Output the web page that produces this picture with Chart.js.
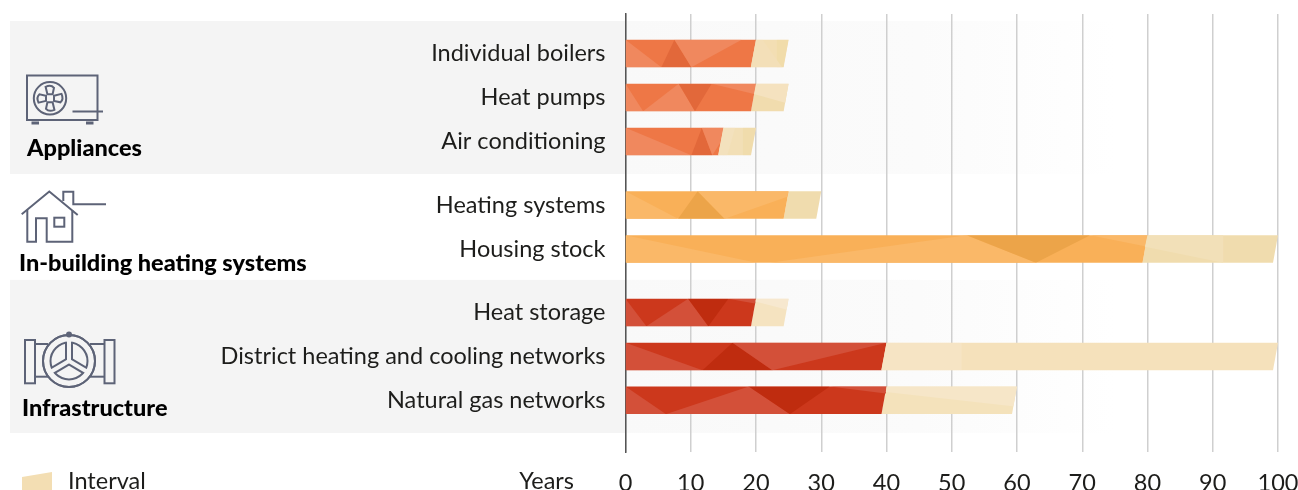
<!DOCTYPE html>
<html><head><meta charset="utf-8">
<style>html,body{margin:0;padding:0;background:#fff}canvas{display:block}</style>
<script src="https://cdn.jsdelivr.net/npm/chart.js@4"></script>
</head><body><canvas id="c" width="1298" height="490"></canvas>
<script>
const categories = ["Individual boilers","Heat pumps","Air conditioning","Heating systems","Housing stock","Heat storage","District heating and cooling networks","Natural gas networks"];
const rowGroup = [0,0,0,1,1,2,2,2];
const groupNames = ["Appliances","In-building heating systems","Infrastructure"];
const lifetimeMin = [20,20,15,25,80,20,40,40];
const lifetimeMax = [25,25,20,30,100,25,100,60];
const xTicks = [0,10,20,30,40,50,60,70,80,90,100];
const intervalLabel = "Interval";
const axisLabel = "Years";

// Facets of the low-poly bar texture: tone, then [years, fraction of bar height] corners
const facetsBoilers = [["l",[[0,0],[5.5,1],[0,1]]],["d",[[7.5,0],[10.1,1],[5.5,1]]],["l",[[7.5,0],[17.8,0],[10.1,1]]],["i2",[[23.2,0],[25,0],[24.2,1],[23.2,1]]],["i1",[[20,0],[21,0],[24,1],[19.2,1]]]];
const facetsPumps = [["l",[[0,0],[2.7,1],[0,1]]],["l",[[8.15,0],[10.65,1],[2.7,1]]],["d",[[8.15,0],[13.2,0],[10.65,1]]],["l",[[13.2,0],[20,0],[19.7,.37]]],["i1",[[20,0],[25,0],[24.6,.7],[19.7,.37]]]];
const facetsAC = [["l",[[0,0],[10.1,1],[0,1]]],["d",[[11.7,0],[13.3,1],[10.1,1]]],["l",[[11.7,0],[15,0],[14.5,.55],[13.3,1]]],["i1",[[15,0],[16.8,0],[15.6,1],[14.2,1]]],["i2",[[18,0],[20,0],[19.2,1],[18,1]]]];
const facetsHeating = [["l",[[0,0],[8.05,1],[0,1]]],["d",[[11.06,0],[15.2,1],[8.05,1]]],["l",[[11.06,0],[25,0],[24.8,.2],[15.2,1]]]];
const facetsHousing = [["l",[[0,0],[20.1,1],[0,1]]],["l",[[22.1,1],[52.3,0],[62.9,1]]],["d",[[52.3,0],[71.2,0],[62.9,1]]],["l",[[71.2,0],[80,0],[79.6,.4]]],["i1",[[80,0],[91.6,0],[91.6,1],[79.6,.42]]]];
const facetsStorage = [["l",[[0,0],[3.2,1],[0,1]]],["l",[[9.6,0],[12.7,1],[3.2,1]]],["d",[[9.6,0],[15.76,0],[12.7,1]]],["l",[[15.76,0],[20,0],[19.8,.18]]],["i1",[[20,0],[25,0],[24.8,.4],[19.9,.1]]]];
const facetsDistrict = [["l",[[0,0],[11.8,1],[0,1]]],["d",[[16.4,0],[22.5,1],[11.8,1]]],["l",[[16.4,0],[40,0],[22.5,1]]],["i1",[[40,0],[51.5,0],[51.5,1],[39.2,1]]]];
const facetsGas = [["l",[[0,0],[6.2,1],[0,1]]],["l",[[18.9,0],[25.2,1],[6.2,1]]],["d",[[18.9,0],[31.3,0],[25.2,1]]],["l",[[31.3,0],[40,0],[39.9,.25]]],["i1",[[40,0],[60,0],[59.7,.72],[39.9,.2]]]];
const rowFacets = [facetsBoilers,facetsPumps,facetsAC,facetsHeating,facetsHousing,facetsStorage,facetsDistrict,facetsGas];

const orange={b:"#ee7746",l:"#f0885e",d:"#e2683a"}, amber={b:"#f9b058",l:"#fab868",d:"#eca449"}, red={b:"#cc381c",l:"#d35039",d:"#bf2c0f"};
const rowTone=[orange,orange,orange,amber,amber,red,red,red];
const intervalBase=["#f3deb3","#f1dcae","#f2dfb6","#f0dcae","#f0dcae","#f5e3c0","#f5e1bb","#f4e2bb"];
const intervalLight=["#f3dfb8","#f5e2bf","#f3e1bd","#f0dcae","#f2e0b8","#f7e8cf","#f6e4c4","#f6e6c8"];
const intervalDark=["#f1dcaa","#f1dcae","#f0dcac","#f0dcae","#f0dcae","#f5e3c0","#f5e1bb","#f4e2bb"];

const SLANT=5, gapUnits=0.443;
const rowPos=categories.map((c,i)=>i+gapUnits*rowGroup[i]);
const FONT='Lato, sans-serif', INK='#1d1d1b', ICON='#5d6377';

function barPath(ctx,x0,x1,y,h,slantLeft){
  const t=y-h/2,b=y+h/2;
  ctx.beginPath();ctx.moveTo(x0,t);ctx.lineTo(x1,t);ctx.lineTo(x1-SLANT,b);ctx.lineTo(x0-(slantLeft?SLANT:0),b);ctx.closePath();
}
Chart.BarElement.prototype.draw=function(ctx){
  const {x,y,base,height}=this.getProps(['x','y','base','height']);
  ctx.save();ctx.fillStyle=this.options.backgroundColor;
  barPath(ctx,base,x,y,height,base>this.$zero);
  ctx.fill();ctx.restore();
};

const facetPlugin={id:'facets',
  beforeDatasetsDraw(chart){
    const z=chart.scales.x.getPixelForValue(0)+1;
    chart.data.datasets.forEach((d,i)=>chart.getDatasetMeta(i).data.forEach(e=>e.$zero=z));
  },
  afterDatasetsDraw(chart){
    const ctx=chart.ctx,sx=chart.scales.x,sy=chart.scales.y,H=27.5;
    rowFacets.forEach((facets,r)=>{
      const cy=sy.getPixelForValue(rowPos[r]);
      ctx.save();
      barPath(ctx,sx.getPixelForValue(0),sx.getPixelForValue(lifetimeMax[r]),cy,H,false);
      ctx.clip();
      facets.forEach(([tone,pts])=>{
        ctx.fillStyle=tone==='i1'?intervalLight[r]:tone==='i2'?intervalDark[r]:rowTone[r][tone];
        ctx.beginPath();
        pts.forEach(([v,f],k)=>{const px=sx.getPixelForValue(v),py=cy-H/2+f*H;k?ctx.lineTo(px,py):ctx.moveTo(px,py);});
        ctx.closePath();ctx.fill();
      });
      ctx.restore();
    });
  }
};

function bandBounds(chart,g){
  const sy=chart.scales.y,idx=rowPos.filter((p,i)=>rowGroup[i]===g);
  return [sy.getPixelForValue(idx[0]-0.74),sy.getPixelForValue(idx[idx.length-1]+0.74)];
}
const bandPlugin={id:'bands',beforeDraw(chart){
  const ctx=chart.ctx,a=chart.chartArea;
  [0,2].forEach(g=>{
    const [t,b]=bandBounds(chart,g);
    ctx.fillStyle='#f4f4f4';ctx.fillRect(10,t,a.left-10,b-t);
    const gr=ctx.createLinearGradient(a.left,0,1115,0);
    gr.addColorStop(0,'#f9f9f9');gr.addColorStop(.6,'#fbfbfb');gr.addColorStop(1,'#ffffff');
    ctx.fillStyle=gr;ctx.fillRect(a.left,t,1115-a.left,b-t);
  });
}};

function line(ctx,pts){ctx.beginPath();pts.forEach((p,i)=>i?ctx.lineTo(p[0],p[1]):ctx.moveTo(p[0],p[1]));ctx.stroke();}
function drawAC(ctx){
  ctx.strokeRect(27,75.5,70.5,44.5);
  ctx.beginPath();ctx.arc(50,98.3,16.2,0,7);ctx.stroke();
  line(ctx,[[72.5,111.5],[103,111.5]]);
  ctx.fillRect(31.5,121.5,7.5,3);ctx.fillRect(86,121.5,7.5,3);
  for(let k=0;k<4;k++){ctx.save();ctx.translate(50,98.3);ctx.rotate(k*Math.PI/2);
    ctx.beginPath();ctx.moveTo(-2.6,-4);ctx.lineTo(-4.4,-11.5);ctx.quadraticCurveTo(1,-14,4,-10.5);ctx.lineTo(2.6,-4);ctx.closePath();ctx.stroke();ctx.restore();}
}
function drawHouse(ctx){
  line(ctx,[[21.7,214.3],[49.3,191.5],[77.7,215]]);
  line(ctx,[[63.3,201],[63.3,191.7],[73.3,191.7],[73.3,204.3],[106,204.3]]);
  line(ctx,[[27.3,210],[27.3,241.7],[36,241.7],[36,218.3],[46.7,218.3],[46.7,241.7],[72.3,241.7],[72.3,210]]);
  ctx.strokeRect(54.3,217.7,10,9);
}
function drawValve(ctx,bg){
  ctx.strokeRect(25,340,10,43.3);ctx.strokeRect(104.5,340,10,43.3);
  line(ctx,[[35,344],[48,344]]);line(ctx,[[35,376.7],[48,376.7]]);line(ctx,[[90,344],[104.5,344]]);line(ctx,[[90,376.7],[104.5,376.7]]);
  const cx=69,cy=361;
  ctx.beginPath();ctx.arc(cx,cy,26,0,7);ctx.stroke();
  ctx.beginPath();ctx.arc(cx,cy-26.5,3,0,7);ctx.fillStyle=ICON;ctx.fill();
  ctx.beginPath();ctx.arc(cx,cy,18.5,0,7);ctx.stroke();
  const ends=[[0,-22],[-19.5,11.5],[19.5,11.5]];
  ends.forEach(e=>{ctx.lineWidth=8;ctx.strokeStyle=ICON;line(ctx,[[cx,cy],[cx+e[0]*.82,cy+e[1]*.82]]);});
  ends.forEach(e=>{ctx.lineWidth=4;ctx.strokeStyle=bg;line(ctx,[[cx,cy],[cx+e[0],cy+e[1]]]);});
  ctx.lineWidth=2;ctx.strokeStyle=ICON;ctx.beginPath();ctx.arc(cx,cy,26,0,7);ctx.stroke();
}
const annotPlugin={id:'annot',afterDraw(chart){
  const ctx=chart.ctx;
  ctx.save();
  ctx.strokeStyle=ICON;ctx.fillStyle=ICON;ctx.lineWidth=2;ctx.lineJoin='miter';
  drawAC(ctx);drawHouse(ctx);drawValve(ctx,'#f4f4f4');
  ctx.fillStyle='#000';ctx.textBaseline='middle';ctx.textAlign='left';
  ctx.font='900 23.5px '+FONT;
  ctx.fillText(groupNames[0],27,148);
  ctx.fillText(groupNames[1],19,263);
  ctx.fillText(groupNames[2],22,408);
  ctx.fillStyle=INK;
  ctx.font='23.5px '+FONT;
  ctx.fillText(intervalLabel,68,481);
  ctx.textAlign='right';
  ctx.fillText(axisLabel,574,481);
  ctx.fillStyle=intervalBase[0];
  ctx.beginPath();ctx.moveTo(22,477);ctx.lineTo(52,472);ctx.lineTo(52,490);ctx.lineTo(22,490);ctx.closePath();ctx.fill();
  ctx.restore();
}};

new Chart(document.getElementById('c'),{
  type:'bar',
  data:{datasets:[
    {label:'Lifetime',data:categories.map((c,i)=>({x:[0,lifetimeMin[i]],y:rowPos[i]})),backgroundColor:rowTone.map(t=>t.b)},
    {label:intervalLabel,data:categories.map((c,i)=>({x:[lifetimeMin[i],lifetimeMax[i]],y:rowPos[i]})),backgroundColor:intervalBase}
  ]},
  plugins:[bandPlugin,facetPlugin,annotPlugin],
  options:{
    indexAxis:'y',responsive:false,animation:false,
    grouped:false,barThickness:27.5,
    layout:{padding:{top:14,right:20,bottom:0,left:0}},
    plugins:{legend:{display:false},tooltip:{enabled:false}},
    scales:{
      x:{type:'linear',min:0,max:100,position:'bottom',
        afterBuildTicks(s){s.ticks=xTicks.map(v=>({value:v}));},
        afterFit(s){s.height=38;s.paddingLeft=0;s.paddingRight=0;},
        grid:{color:'#cfcfcf',lineWidth:1.5,drawTicks:false},
        border:{display:false},
        ticks:{padding:17,color:INK,font:{family:FONT,size:23.5},maxRotation:0,autoSkip:false}},
      y:{type:'linear',reverse:true,min:-0.9,max:9.06,position:'left',offset:false,
        afterBuildTicks(s){s.ticks=rowPos.map(v=>({value:v}));},
        afterFit(s){s.width=625.5;s.paddingTop=0;s.paddingBottom=0;},
        grid:{display:false,drawTicks:false,offset:false},
        border:{color:'#555',width:1.5},
        ticks:{padding:20,color:INK,font:{family:FONT,size:23.5},autoSkip:false,
          callback:v=>categories[rowPos.indexOf(v)]}}
    }
  }
});
</script></body></html>
